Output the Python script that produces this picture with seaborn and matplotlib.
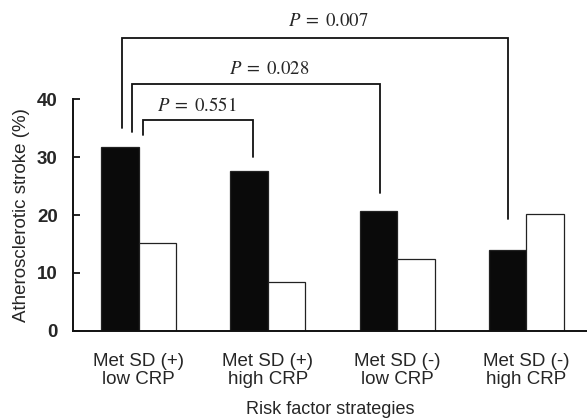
import matplotlib
matplotlib.use("Agg")
import matplotlib.pyplot as plt
import seaborn as sns
import pandas as pd

# ---- data ----
categories = ["Met SD (+)\nlow CRP", "Met SD (+)\nhigh CRP",
              "Met SD (-)\nlow CRP", "Met SD (-)\nhigh CRP"]
series_names = ["Group 1", "Group 2"]
black_values = [31.7, 27.6, 20.7, 14.0]
white_values = [15.2, 8.4, 12.4, 20.2]
y_ticks = [0, 10, 20, 30, 40]
p_labels = [r"$P\;=\;0.551$", r"$P\;=\;0.028$", r"$P\;=\;0.007$"]

df = pd.DataFrame({
    "strategy": categories * 2,
    "value": black_values + white_values,
    "group": [series_names[0]] * 4 + [series_names[1]] * 4,
})

sns.set_theme(style="white")
plt.rcParams["font.family"] = ["Liberation Sans", "DejaVu Sans"]
plt.rcParams["mathtext.fontset"] = "stix"

fig = plt.figure(figsize=(5.87, 4.2), dpi=100)
ax = fig.add_axes([73 / 587, 89.3 / 420, 1 - 73 / 587, 231.4 / 420])

sns.barplot(data=df, x="strategy", y="value", hue="group",
            palette=["#0a0a0a", "#ffffff"], width=0.58,
            edgecolor="#222222", linewidth=0.9, legend=False,
            saturation=1, ax=ax, errorbar=None)

ax.set_ylim(0, 40)
ax.set_xlim(-0.509, 3.47)
ax.set_yticks(y_ticks)
ax.set_yticklabels([str(t) for t in y_ticks], fontsize=13.5, fontweight="bold")
ax.tick_params(axis="y", direction="in", length=5, width=1.3, pad=11, left=True,
               color="#111111")
ax.tick_params(axis="x", length=0, pad=16, labelsize=13.5)
for lbl in ax.get_xticklabels():
    lbl.set_linespacing(1.05)

for s in ["top", "right"]:
    ax.spines[s].set_visible(False)
for s in ["left", "bottom"]:
    ax.spines[s].set_linewidth(1.4)
    ax.spines[s].set_color("#111111")

ax.set_ylabel("Atherosclerotic stroke (%)", fontsize=13.5, labelpad=5)
ax.set_xlabel("Risk factor strategies", fontsize=13, labelpad=10)

# ---- significance brackets (left x, right x, top y, left-bottom y, right-bottom y) ----
brackets = [
    (0.031, 0.888, 36.5, 33.9, 30.1),
    (-0.050, 1.869, 42.7, 34.4, 23.8),
    (-0.127, 2.855, 50.6, 35.1, 19.3),
]
label_pos = [(0.452, 38.8), (1.009, 45.2), (1.47, 53.5)]
for (x0, x1, yt, yl, yr), lab, (tx, ty) in zip(brackets, p_labels, label_pos):
    ax.plot([x0, x0, x1, x1], [yl, yt, yt, yr], color="#111111",
            lw=1.3, clip_on=False, solid_joinstyle="miter")
    ax.text(tx, ty, lab, ha="center", va="center", fontsize=13.5,
            clip_on=False)

fig.savefig("out.png", dpi=100)
